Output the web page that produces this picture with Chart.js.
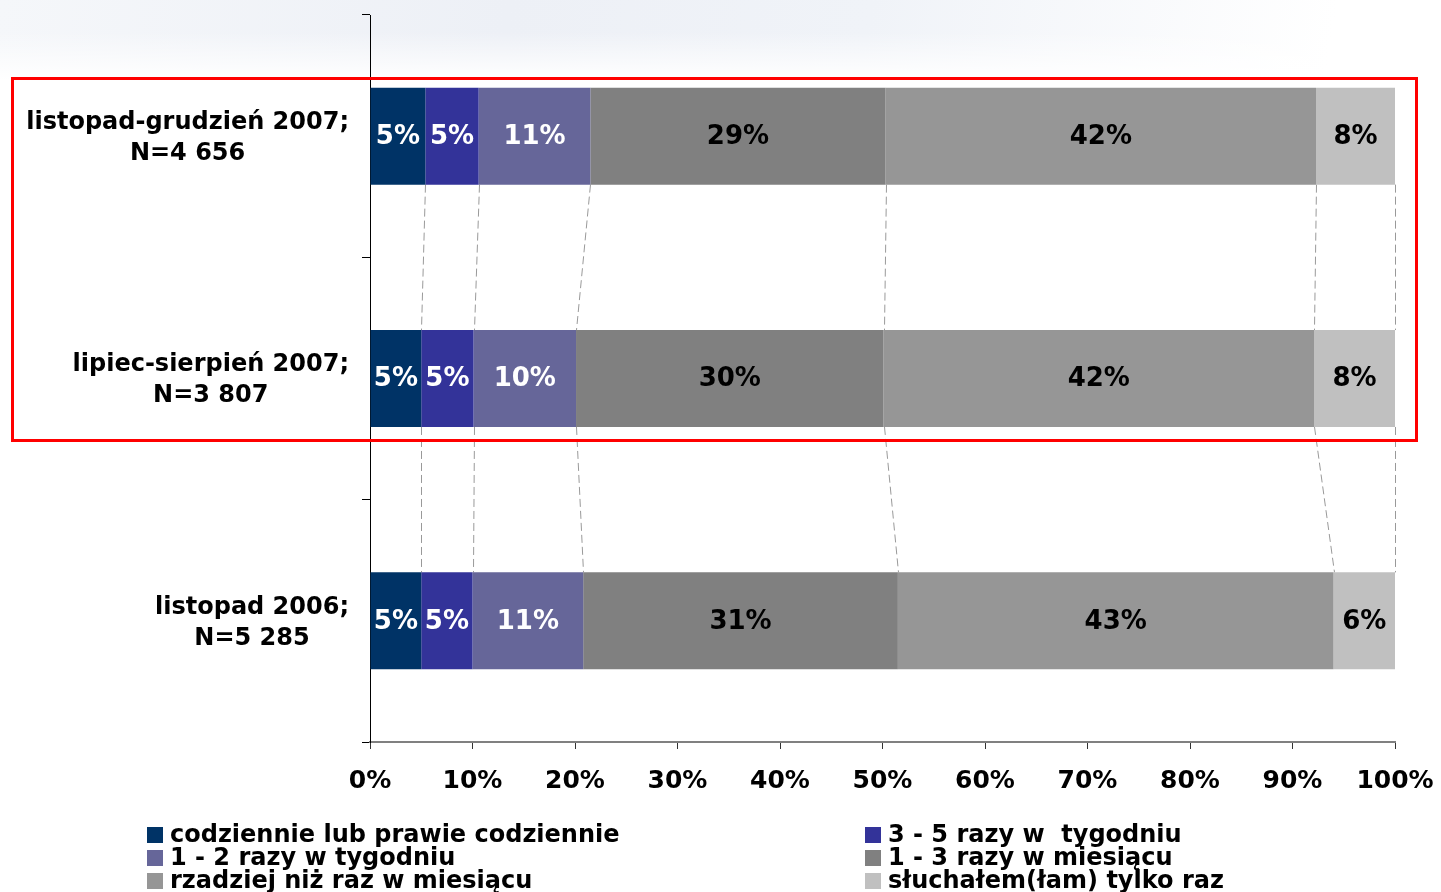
<!DOCTYPE html>
<html>
<head>
<meta charset="utf-8">
<script src="https://cdn.jsdelivr.net/npm/chart.js@4.4.1/dist/chart.umd.min.js"></script>
<style>
  html, body { margin: 0; padding: 0; width: 1441px; height: 892px; overflow: hidden; background: #fff; }
  #bg { position: absolute; left: 0; top: 0; width: 1441px; height: 80px;
        background: linear-gradient(100deg, #f5f7fa 0%, #edf0f6 35%, #f0f3f8 60%, #ffffff 92%); }
  #bg2 { position: absolute; left: 0; top: 0; width: 1441px; height: 80px;
         background: linear-gradient(to bottom, rgba(255,255,255,0) 40%, #fff 100%); }
  #chart { position: absolute; left: 0; top: 0; }
  #legend { position: absolute; left: 147px; top: 823px; display: grid;
            grid-template-columns: 718px auto; font: bold 24px "DejaVu Sans", sans-serif;
            line-height: 23px; color: #000; }
  .item { display: flex; align-items: center; white-space: pre; height: 23px; }
  .box { width: 16px; height: 16px; margin-right: 7px; flex: none; }
</style>
</head>
<body>
<div id="bg"></div>
<div id="bg2"></div>
<canvas id="chart" width="1441" height="892"></canvas>
<div id="legend"></div>
<script>
const categories = [
  ["listopad-grudzień 2007;", "N=4 656"],
  ["lipiec-sierpień 2007;", "N=3 807"],
  ["listopad 2006;", "N=5 285"]
];
const seriesNames = [
  "codziennie lub prawie codziennie",
  "3 - 5 razy w  tygodniu",
  "1 - 2 razy w tygodniu",
  "1 - 3 razy w miesiącu",
  "rzadziej niż raz w miesiącu",
  "słuchałem(łam) tylko raz"
];
const daily = [5.4, 5.0, 5.0];
const threeFive = [5.2, 5.1, 5.0];
const oneTwo = [10.9, 10.0, 10.8];
const oneThreeMonth = [28.8, 30.0, 30.7];
const rarer = [42.0, 42.0, 42.5];
const once = [7.7, 7.9, 6.0];
const shownLabels = [
  ["5%", "5%", "5%"],
  ["5%", "5%", "5%"],
  ["11%", "10%", "11%"],
  ["29%", "30%", "31%"],
  ["42%", "42%", "43%"],
  ["8%", "8%", "6%"]
];
const xTicks = [0, 10, 20, 30, 40, 50, 60, 70, 80, 90, 100];

const colors = ["#003366", "#333399", "#666699", "#808080", "#969696", "#C0C0C0"];
const labelColors = ["#fff", "#fff", "#fff", "#000", "#000", "#000"];
const seriesValues = [daily, threeFive, oneTwo, oneThreeMonth, rarer, once];
const FONT = '"DejaVu Sans", sans-serif';

// dashed series lines between the bars
const seriesLines = {
  id: "seriesLines",
  beforeDatasetsDraw(chart) {
    const ctx = chart.ctx;
    ctx.save();
    ctx.strokeStyle = "#999999";
    ctx.lineWidth = 1;
    ctx.setLineDash([8, 4]);
    chart.data.datasets.forEach((ds, i) => {
      const els = chart.getDatasetMeta(i).data;
      for (let k = 0; k < els.length - 1; k++) {
        const a = els[k], b = els[k + 1];
        ctx.beginPath();
        ctx.moveTo(Math.round(a.x) + 0.5, a.y + a.height / 2);
        ctx.lineTo(Math.round(b.x) + 0.5, b.y - b.height / 2);
        ctx.stroke();
      }
    });
    ctx.restore();
  }
};

// value labels inside the segments
const segmentLabels = {
  id: "segmentLabels",
  afterDatasetsDraw(chart) {
    const ctx = chart.ctx;
    ctx.save();
    ctx.font = "bold 26px " + FONT;
    ctx.textAlign = "center";
    ctx.textBaseline = "middle";
    chart.data.datasets.forEach((ds, i) => {
      chart.getDatasetMeta(i).data.forEach((el, k) => {
        ctx.fillStyle = labelColors[i];
        ctx.fillText(shownLabels[i][k], (el.x + el.base) / 2, el.y + 1);
      });
    });
    ctx.restore();
  }
};

// category labels: block right aligned, lines centred inside it
const categoryLabels = {
  id: "categoryLabels",
  afterDraw(chart) {
    const ctx = chart.ctx;
    const y = chart.scales.y;
    ctx.save();
    ctx.font = "bold 24px " + FONT;
    ctx.fillStyle = "#000";
    ctx.textAlign = "center";
    ctx.textBaseline = "middle";
    categories.forEach((lines, i) => {
      const w = Math.max(...lines.map(t => ctx.measureText(t).width));
      const cx = 349 - w / 2;
      const cy = y.getPixelForValue(i) + 2;
      lines.forEach((t, j) => ctx.fillText(t, cx, cy + (j - (lines.length - 1) / 2) * 31));
    });
    ctx.restore();
  }
};

// red frame round the two 2007 bars
const redFrame = {
  id: "redFrame",
  afterDraw(chart) {
    const ctx = chart.ctx;
    const y = chart.scales.y;
    const top = Math.round(y.getPixelForValue(0) - 58) + 0.5;
    const bottom = Math.round(y.getPixelForValue(1) + 61) + 0.5;
    ctx.save();
    ctx.strokeStyle = "#ff0000";
    ctx.lineWidth = 3;
    ctx.strokeRect(12.5, top, 1404, bottom - top);
    ctx.restore();
  }
};

new Chart(document.getElementById("chart"), {
  type: "bar",
  data: {
    labels: categories.map(c => c.join(" ")),
    datasets: seriesValues.map((vals, i) => ({
      label: seriesNames[i],
      data: vals,
      backgroundColor: colors[i],
      borderWidth: 0,
      barPercentage: 0.4,
      categoryPercentage: 1
    }))
  },
  options: {
    indexAxis: "y",
    responsive: false,
    animation: false,
    devicePixelRatio: 1,
    layout: { padding: { top: 15, left: 0, right: 46, bottom: 90 } },
    plugins: { legend: { display: false }, tooltip: { enabled: false } },
    scales: {
      x: {
        type: "linear",
        stacked: true,
        min: 0,
        max: 100,
        afterBuildTicks(scale) { scale.ticks = xTicks.map(v => ({ value: v })); },
        afterFit(scale) {
          scale.height = 60;
          scale.paddingLeft = 0;
          scale.paddingRight = 0;
        },
        ticks: {
          callback: v => v + "%",
          color: "#000",
          font: { family: FONT, weight: "bold", size: 25 },
          padding: 17,
          maxRotation: 0
        },
        grid: { drawOnChartArea: false, tickLength: 7, color: "#333", lineWidth: 1 },
        border: { color: "#808080", width: 2 }
      },
      y: {
        stacked: true,
        afterFit(scale) { scale.width = 370; },
        ticks: { display: false },
        grid: { drawOnChartArea: false, offset: true, tickLength: 8, color: "#000", lineWidth: 1 },
        border: { color: "#000", width: 1 }
      }
    }
  },
  plugins: [seriesLines, segmentLabels, categoryLabels, redFrame]
});

// legend, two columns like the original
const legend = document.getElementById("legend");
seriesNames.forEach((name, i) => {
  const item = document.createElement("div");
  item.className = "item";
  item.innerHTML = '<span class="box" style="background:' + colors[i] + '"></span><span>' + name + "</span>";
  legend.appendChild(item);
});
</script>
</body>
</html>
